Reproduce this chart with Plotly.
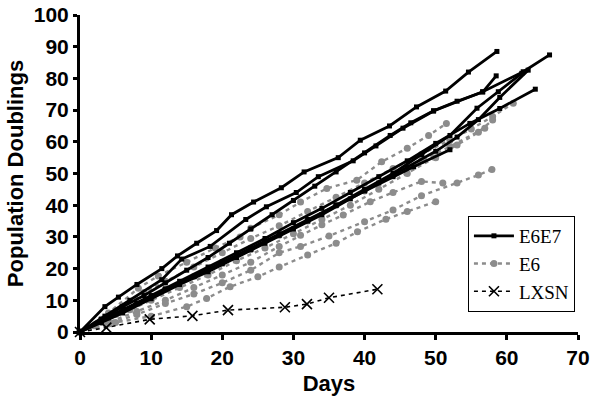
import plotly.graph_objects as go

# E6E7 series (black, solid)
e6e7_days = [
    [0, 3.5, 5.4, 8, 11.5, 13.7, 16.4, 19.2, 21.3, 24.4, 28.3, 31.5, 36.3, 39.4, 43.5, 47.3, 51.4, 54.6, 58.6],
    [0, 3.5, 7, 11.5, 14.3, 18.3, 23.3, 26.2, 30.4, 33.5, 38.4, 41.6, 45.4, 49.7, 56.6, 62.3, 66],
    [0, 3, 6, 9, 12, 15, 18, 21, 24, 27, 30, 33, 36, 40, 43.6, 46.5, 49.7, 53, 56.6, 58.5],
    [0, 3, 6, 10, 14, 18, 22, 26, 30, 34, 38, 42, 46, 50, 54.8, 59, 64],
    [0, 4, 8, 12, 16, 20, 24, 28, 32, 36, 40, 44, 48, 52, 55.8, 58.8, 62.1],
    [0, 3, 6, 10, 14, 18, 22, 26, 30, 34, 38, 42, 46, 50, 53, 56, 59, 63],
    [0, 4, 8, 12, 16, 20, 24, 28, 32, 36, 40, 44, 46.9, 52],
]
e6e7_pd = [
    [0, 8, 11, 15, 20, 24, 28, 32, 37, 41, 45.5, 50.5, 55, 60.5, 65, 71, 76, 82, 88.5],
    [0, 5, 10, 16.5, 23, 27, 35.5, 39.5, 44, 49, 54, 58.7, 64.3, 69.7, 75.8, 82.1, 87.4],
    [0, 4, 8, 11.5, 15.5, 19.5, 23.5, 28, 32.5, 37, 41.5, 46, 50.5, 56.5, 62, 66, 69.8, 72.8, 75.7, 80.8],
    [0, 3.5, 7, 11.5, 16, 20.5, 25, 29.5, 34.5, 39, 44, 49, 54, 59.5, 65.8, 70.5, 76.6],
    [0, 5, 9, 13.5, 17.5, 21.5, 26, 30.5, 35, 40, 45, 50, 56, 62, 70.6, 75.8, 81.6],
    [0, 3, 6, 10.5, 15, 19, 23.5, 28, 32.5, 37, 42, 47, 52, 57, 61.5, 67, 74, 82.6],
    [0, 4.5, 9, 13.5, 17.5, 22, 26.5, 31, 35.5, 40, 44.5, 49, 52.1, 57.5],
]

# E6 series (grey, dashed)
e6_days = [
    [0, 3, 6, 9, 12, 16, 20, 24, 28, 32, 36, 40, 44, 48, 52, 55, 58, 60.9],
    [0, 3, 7, 10, 14, 18, 22, 26, 30, 34, 38, 42, 46, 50, 53, 56, 58],
    [0, 4, 8.2, 11, 15, 19, 22.5, 24, 28, 31, 34.7, 38.9, 42.4, 46, 49, 51.5],
    [0, 2, 5, 8, 12, 16, 20, 24, 28, 32, 36, 40, 44, 48, 52, 56.9],
    [0, 4, 8, 12, 16, 20, 24, 28, 31, 34, 37, 40.8, 44, 48, 51],
    [0, 4, 8, 12, 16, 20, 24, 28, 31, 35, 40, 44, 48, 53, 56, 57.9],
    [0, 5, 10, 15, 17.8, 21.1, 25, 28, 32, 36, 39, 43, 46, 50],
]
e6_pd = [
    [0, 4, 8, 12.5, 16, 20.5, 25, 29.5, 33.5, 38, 42.5, 47, 51.6, 56, 60.5, 64, 68, 72.2],
    [0, 3, 7, 10, 14, 18, 22.5, 26.5, 31, 35.5, 40, 45, 50, 55, 59, 63, 66.9],
    [0, 6, 13.8, 17.7, 22, 26.5, 30, 32.7, 37, 41, 45.3, 47.9, 53.7, 58, 62, 65.8],
    [0, 2, 5.5, 9, 13.5, 17.5, 22, 26, 30.5, 35, 40, 44.5, 49.5, 54, 58.5, 64.3],
    [0, 3, 6.5, 10, 14, 18, 22, 27, 30.5, 33.8, 36.9, 41.1, 44, 47.5, 47],
    [0, 2.5, 5.5, 9, 12, 15.5, 19.5, 25, 27, 30.3, 34.8, 38.5, 43, 47, 49.5, 51.3],
    [0, 3, 5, 8, 10.6, 14.3, 17.4, 20.5, 24.3, 28, 31.6, 35.6, 38, 41.1],
]

# LXSN control
lxsn_days = [0, 3.7, 9.8, 15.8, 20.8, 28.8, 31.9, 35.0, 41.8]
lxsn_pd = [0, 1.4, 4.0, 5.1, 6.9, 7.8, 8.8, 10.8, 13.5]

fig = go.Figure()

# grey lines first so the black ones sit on top
for i, (xs, ys) in enumerate(zip(e6_days, e6_pd)):
    fig.add_trace(go.Scatter(
        x=xs, y=ys, mode='lines+markers', name='E6',
        legendgroup='E6', legendrank=2, showlegend=(i == 0), cliponaxis=False,
        line=dict(color='#8c8c8c', width=2.4, dash='4px,4px'),
        marker=dict(symbol='circle', size=7, color='#8c8c8c'),
    ))

for i, (xs, ys) in enumerate(zip(e6e7_days, e6e7_pd)):
    fig.add_trace(go.Scatter(
        x=xs, y=ys, mode='lines+markers', name='E6E7',
        legendgroup='E6E7', legendrank=1, showlegend=(i == 0), cliponaxis=False,
        line=dict(color='black', width=2.8),
        marker=dict(symbol='square', size=5, color='black'),
    ))

fig.add_trace(go.Scatter(
    x=lxsn_days, y=lxsn_pd, mode='lines+markers', name='LXSN',
    legendgroup='LXSN', legendrank=3, cliponaxis=False,
    line=dict(color='black', width=1.6, dash='4px,4px'),
    marker=dict(symbol='x-thin', size=10, color='black', line=dict(width=1.6, color='black')),
))

tick_font = dict(family='Liberation Sans, Arial', size=21, color='black', weight='bold')

fig.update_layout(
    width=601, height=404,
    margin=dict(l=80, r=23, t=15, b=72),
    paper_bgcolor='white',
    plot_bgcolor='white',
    legend=dict(
        x=0.779, y=0.366, xanchor='left', yanchor='top',
        bordercolor='black', borderwidth=1, bgcolor='white',
        font=dict(family='Liberation Serif, Times New Roman', size=19, color='black'),
        traceorder='normal', itemwidth=40,
    ),
    xaxis=dict(
        range=[0, 70], dtick=10, showgrid=False, zeroline=False, automargin=False,
        showline=True, linecolor='black', linewidth=3,
        ticks='outside', ticklen=5, tickwidth=2.5, tickcolor='black',
        tickfont=tick_font,
        title=dict(text='Days', standoff=8,
                   font=dict(family='Liberation Sans, Arial', size=22, color='black', weight='bold')),
    ),
    yaxis=dict(
        range=[0, 100], dtick=10, showgrid=False, zeroline=False, automargin=False,
        showline=True, linecolor='black', linewidth=3,
        ticks='outside', ticklen=4, tickwidth=2.5, tickcolor='black',
        tickfont=tick_font,
        title=dict(text='Population Doublings', standoff=5,
                   font=dict(family='Liberation Sans, Arial', size=22, color='black', weight='bold')),
    ),
)

# drop the default 8px page margin so the figure fills the window
fig.write_html("out.html", config={'displayModeBar': False},
               post_script="document.body.style.margin='0';document.body.style.overflow='hidden';")
